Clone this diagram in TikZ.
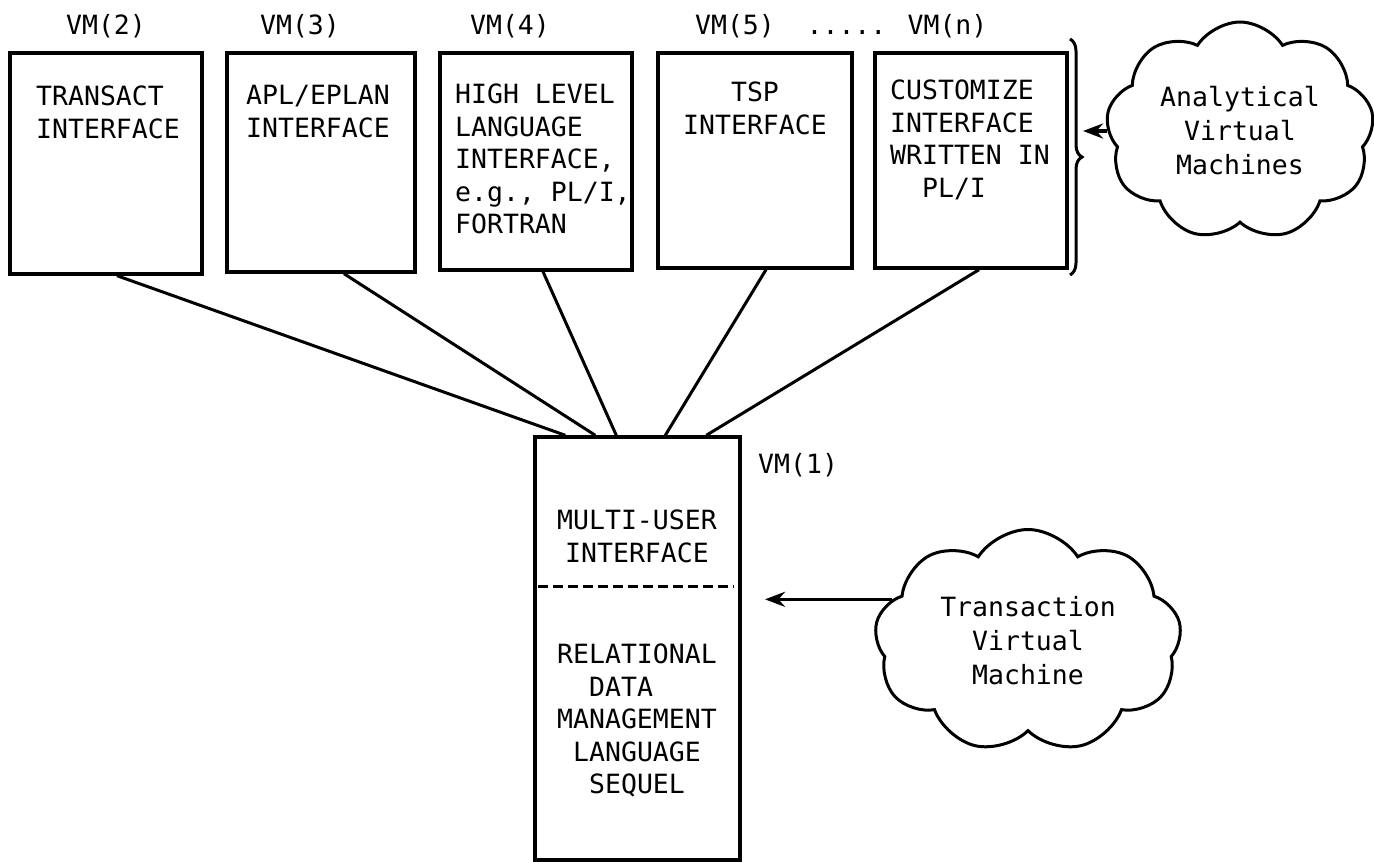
\documentclass[tikz,border=0pt]{standalone}
\usepackage{fontspec}
\newfontfamily\typewriter{DejaVu Sans Mono}
\usepackage{tikz}
\usetikzlibrary{shapes.geometric, shapes.symbols, arrows, arrows.meta, calc, decorations.pathreplacing}
\tikzstyle{vmbox} = [draw, line width=3.4pt, inner sep=0pt]
\tikzstyle{txt} = [inner sep=0pt, font=\typewriter\fontsize{26.5}{32.5}\selectfont]
\tikzstyle{link} = [line width=3pt]
\tikzstyle{arrow} = [line width=3.6pt,-{Stealth[length=20pt,width=15pt]}]
\tikzstyle{vmcloud} = [draw, cloud, cloud puffs=9, cloud puff arc=115, cloud ignores aspect, line width=3pt, align=center, inner sep=0pt, font=\typewriter\fontsize{26.5}{34}\selectfont]
\tikzstyle{divline} = [line width=2.6pt, dash pattern=on 10pt off 5pt]

\begin{document}
\begin{tikzpicture}[x=1pt,y=-1pt]
		\useasboundingbox (0,0) rectangle (1374,862);
		% Upper row: one box per virtual machine
		\node[vmbox, minimum width=192pt, minimum height=221pt] (b2) at (106,163.5) {};
		\node[vmbox, minimum width=188pt, minimum height=219pt] (b3) at (321,162.5) {};
		\node[vmbox, minimum width=192pt, minimum height=217pt] (b4) at (536,161.5) {};
		\node[vmbox, minimum width=194pt, minimum height=215pt] (b5) at (755,160.5) {};
		\node[vmbox, minimum width=192pt, minimum height=215pt] (bn) at (971,160.5) {};
		
		% Labels above the boxes:
		\node[txt, anchor=north] (l2) at (106,14) {VM(2)};
		\node[txt, anchor=north] (l3) at (300,14) {VM(3)};
		\node[txt, anchor=north] (l4) at (510,14) {VM(4)};
		\node[txt, anchor=north] (l5) at (735,14) {VM(5)};
		\node[txt, anchor=north] (ln) at (897,14) {..... VM(n)};
		
		% Texts inside the boxes:
		\node[txt, anchor=north west, align=left] (t2) at (36,86) {TRANSACT\\INTERFACE};
		\node[txt, anchor=north west, align=left] (t3) at (246,85) {APL/EPLAN\\INTERFACE};
		\node[txt, anchor=north west, align=left] (t4) at (455,84) {HIGH LEVEL\\LANGUAGE\\INTERFACE,\\e.g., PL/I,\\FORTRAN};
		\node[txt, anchor=north, align=center] (t5) at (755,82) {TSP\\INTERFACE};
		\node[txt, anchor=north west, align=left] (tn) at (890,80) {CUSTOMIZE\\INTERFACE\\WRITTEN IN\\\hphantom{XX}PL/I};
		
		% The bracket round the upper row:
		\draw[line width=3pt, decorate, decoration={brace, amplitude=12pt}] (1070,39) -- (1070,275);
		\coordinate (brtip) at (1083,133);
		
		% Lower box VM(1):
		\node[vmbox, minimum width=205pt, minimum height=423pt] (v1) at (637.5,648.5) {};
		\node[txt, anchor=north west] (l1) at (758,453) {VM(1)};
		\node[txt, anchor=north, align=center] (m1) at (637,510) {MULTI-USER\\INTERFACE};
		\draw[divline] ($(v1.north west)+(5,151)$) -- ($(v1.north east)+(-8,151)$);
		\node[txt, anchor=north, align=center] (r1) at (637,644) {RELATIONAL\\DATA\hphantom{XX}\\MANAGEMENT\\LANGUAGE\\SEQUEL};
		
		% Connectors from every upper box to VM(1):
		\foreach \b/\s/\e in {b2/11/32, b3/23/62, b4/7/83, b5/11/132, bn/8/173}{%
			\draw[link] ($(\b.south)+(\s,0)$) -- ($(v1.north west)+(\e,0)$);
		}
		
		% Clouds and their arrows:
		\node[vmcloud, minimum width=268pt, minimum height=218pt] (avm) at (1240,131) {Analytical\\Virtual\\Machines};
		\draw[arrow] (avm.west) -- (avm.west -| brtip);
		\node[vmcloud, minimum width=307pt, minimum height=223pt] (tvm) at (1028,641) {Transaction\\Virtual\\Machine};
		\coordinate (tvmtip) at (765,603);
		\draw[arrow] (tvm.163) -- (tvm.163 -| tvmtip);
\end{tikzpicture}
\end{document}
